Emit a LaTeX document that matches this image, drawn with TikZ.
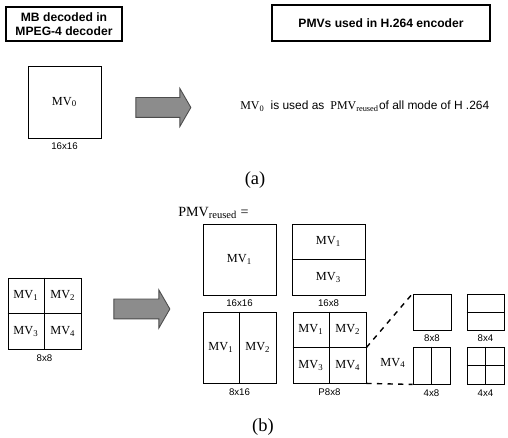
\documentclass[tikz,border=0pt]{standalone}
\usepackage{fontspec}
\setmainfont{Liberation Serif}
\setsansfont{Liberation Sans}
\usetikzlibrary{positioning,shapes.arrows,calc}

\begin{document}
\begin{tikzpicture}[x=0.02cm,y=-0.02cm]
	\tikzset{title/.style =
		{draw, line width=0.6pt,
			align = center,
			inner sep = 0pt,
			font = \sffamily\bfseries\fontsize{6.9}{8}\selectfont},
		blk/.style = {draw, line width=0.5pt, inner sep=0pt,
			font = \fontsize{7}{8}\selectfont},
		sizelab/.style = {inner sep=0pt,
			font = \sffamily\fontsize{5.5}{6}\selectfont},
		mvlab/.style = {inner sep=0pt, font = \fontsize{7}{8}\selectfont},
		fatarrow/.style = {single arrow, draw=black!70, fill=black!45,
			line width=0.5pt, inner xsep=0pt, inner ysep=0.19cm,
			single arrow tip angle=120,
			single arrow head extend=0.18cm,
			minimum height=1.1cm}}
	\useasboundingbox (0,0) rectangle (508,438);
	% (a)
	\node[title, minimum width=2.32cm, minimum height=0.68cm] (mpeg) at (64,24)
		{MB decoded in\\MPEG-4 decoder};
	\node[title, minimum width=4.36cm, minimum height=0.72cm] (h264) at (381,23)
		{PMVs used in H.264 encoder};
	\node[blk, minimum width=1.46cm, minimum height=1.44cm] (mbA) at (64.5,102)
		{MV\textsubscript{0}};
	\node[sizelab, below=2pt of mbA] (lA) {16x16};
	\node[fatarrow] (arrA) at (160.5,107.5) {};
	\node[mvlab, anchor=west, font=\fontsize{6.8}{8}\selectfont] (txtA) at (240,106)
		{MV\textsubscript{0}\ \ {\sffamily is used as}\ \ PMV\textsubscript{reused}{\sffamily of all mode of H .264}};
	\node[font=\fontsize{10.5}{12}\selectfont] (capA) at (255,180) {(a)};
	% (b)
	\node[blk, minimum width=1.46cm, minimum height=1.42cm] (mbB) at (44.5,313.5) {};
	\draw[line width=0.5pt] (mbB.north) -- (mbB.south) (mbB.west) -- (mbB.east);
	\node[mvlab] at ($(mbB.north west)!0.25!(mbB.south east)$) {MV\textsubscript{1}};
	\node[mvlab] at ($(mbB.north east)!0.25!(mbB.south west)$) {MV\textsubscript{2}};
	\node[mvlab] at ($(mbB.north east)!0.75!(mbB.south west)$) {MV\textsubscript{3}};
	\node[mvlab] at ($(mbB.north west)!0.75!(mbB.south east)$) {MV\textsubscript{4}};
	\node[sizelab, below=3pt of mbB] (lB) {8x8};
	\node[fatarrow, minimum height=1.12cm] (arrB) at (139,309) {};

	\node[font=\fontsize{8}{9}\selectfont, anchor=west, inner sep=0pt] (pmv) at (178,213)
		{PMV\textsubscript{reused} =};
	\node[blk, minimum width=1.46cm, minimum height=1.42cm] (m1616) at (239.5,259.5)
		{MV\textsubscript{1}};
	\node[sizelab, below=2pt of m1616] {16x16};
	\node[blk, minimum width=1.46cm, minimum height=1.42cm] (m168) at (328.5,259.5) {};
	\draw[line width=0.5pt] (m168.west) -- (m168.east);
	\node[mvlab] at ($(m168.north)!0.25!(m168.south)$) {MV\textsubscript{1}};
	\node[mvlab] at ($(m168.north)!0.75!(m168.south)$) {MV\textsubscript{3}};
	\node[sizelab, below=2pt of m168] {16x8};
	\node[blk, minimum width=1.46cm, minimum height=1.42cm] (m816) at (239.5,347.5) {};
	\draw[line width=0.5pt] (m816.north) -- (m816.south);
	\node[mvlab] at ($(m816.west)!0.5!(m816.center)$) {MV\textsubscript{1}};
	\node[mvlab] at ($(m816.east)!0.5!(m816.center)$) {MV\textsubscript{2}};
	\node[sizelab, below=3pt of m816] {8x16};
	\node[blk, minimum width=1.46cm, minimum height=1.42cm] (p88) at (329.5,347.5) {};
	\draw[line width=0.5pt] (p88.north) -- (p88.south) (p88.west) -- (p88.east);
	\node[mvlab] at ($(p88.north west)!0.25!(p88.south east)$) {MV\textsubscript{1}};
	\node[mvlab] at ($(p88.north east)!0.25!(p88.south west)$) {MV\textsubscript{2}};
	\node[mvlab] at ($(p88.north east)!0.75!(p88.south west)$) {MV\textsubscript{3}};
	\node[mvlab] at ($(p88.north west)!0.75!(p88.south east)$) {MV\textsubscript{4}};
	\node[sizelab, below=3pt of p88] {P8x8};
	\node[mvlab] (mv4) at (393,363) {MV\textsubscript{4}};

	\node[blk, minimum width=0.76cm, minimum height=0.72cm] (s88) at (432,312) {};
	\node[sizelab, below=2pt of s88] {8x8};
	\node[blk, minimum width=0.74cm, minimum height=0.72cm] (s84) at (485.5,312) {};
	\draw[line width=0.5pt] (s84.west) -- (s84.east);
	\node[sizelab, below=2pt of s84] {8x4};
	\node[blk, minimum width=0.74cm, minimum height=0.74cm] (s48) at (431.5,365.5) {};
	\draw[line width=0.5pt] (s48.north) -- (s48.south);
	\node[sizelab, below=3pt of s48] {4x8};
	\node[blk, minimum width=0.74cm, minimum height=0.74cm] (s44) at (485.5,365.5) {};
	\draw[line width=0.5pt] (s44.north) -- (s44.south) (s44.west) -- (s44.east);
	\node[sizelab, below=3pt of s44] {4x4};
	\draw[dashed, line width=0.8pt] (p88.east) -- (s88.north west);
	\draw[dashed, line width=0.8pt] (p88.south east) -- (s48.south west);
	\node[font=\fontsize{10.5}{12}\selectfont] (capB) at (263,427) {(b)};
\end{tikzpicture}
\end{document}
